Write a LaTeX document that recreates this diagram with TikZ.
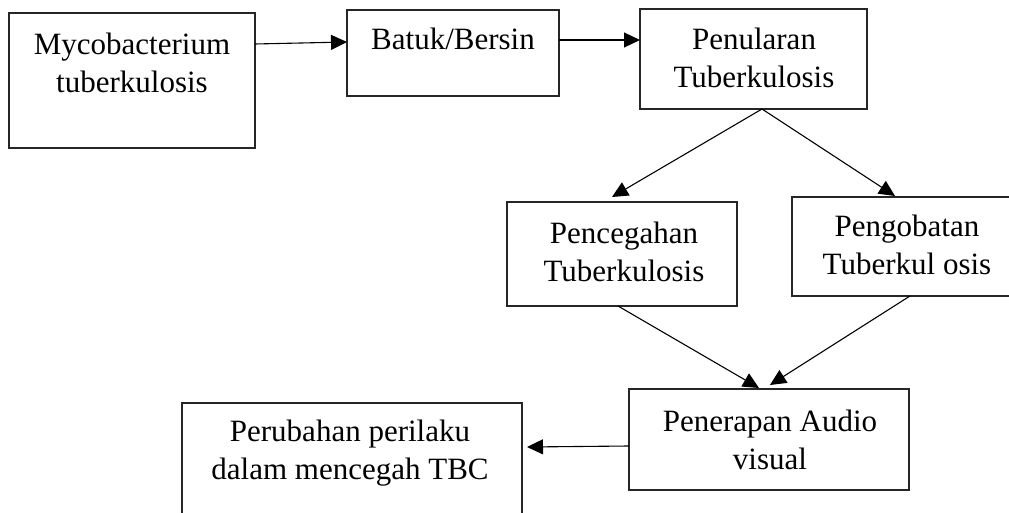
\documentclass[tikz,border=0pt]{standalone}
\usepackage{fontspec}
\setmainfont{Liberation Serif}
\usetikzlibrary{arrows.meta}
\tikzset{
  boxnode/.style={draw=black!85, line width=1.2pt, inner sep=0pt, outer sep=0pt, rectangle},
  txt/.style={anchor=base, align=center, inner sep=0pt, font=\fontsize{31}{38}\selectfont},
  conn/.style={line width=1.1pt, draw=black, -{Triangle[length=16pt,width=15pt]}}
}
\begin{document}
\begin{tikzpicture}[x=1pt,y=-1pt]
\useasboundingbox (0,0) rectangle (1009,513);
% boxes
\node[boxnode, minimum width=246pt, minimum height=135pt] (b1) at (132,80.5) {};
\node[boxnode, minimum width=212pt, minimum height=86pt] (b2) at (453,53) {};
\node[boxnode, minimum width=227pt, minimum height=100pt] (b3) at (753.5,59) {};
\node[boxnode, minimum width=230pt, minimum height=104pt] (b4) at (622,254) {};
\node[boxnode, minimum width=230pt, minimum height=99pt] (b5) at (907,246.5) {};
\node[boxnode, minimum width=280pt, minimum height=101pt] (b6) at (769,439.5) {};
\node[boxnode, minimum width=340pt, minimum height=127pt] (b7) at (352,466.5) {};
% texts (base anchor = baseline of the last line)
\node[txt] (t1) at (132,93) {Mycobacterium\\tuberkulosis};
\node[txt] (t2) at (453,50) {Batuk/Bersin};
\node[txt] (t3) at (754,88) {Penularan\\Tuberkulosis};
\node[txt] (t4) at (624,281) {Pencegahan\\Tuberkulosis};
\node[txt] (t5) at (907,274) {Pengobatan\\Tuberkul osis};
\node[txt] (t6) at (770,469) {Penerapan Audio\\visual};
\node[txt] (t7) at (350,479) {Perubahan perilaku\\dalam mencegah TBC};
% connectors
\draw[conn] ([yshift=-31pt]b1.north east) -- ([yshift=-32pt]b2.north west);
\draw[conn] ([yshift=-30pt]b2.north east) -- ([yshift=-31pt]b3.north west);
\draw[conn] ([xshift=8.5pt]b3.south) -- ([xshift=-10pt,yshift=5pt]b4.north);
\draw[conn] ([xshift=8.5pt]b3.south) -- ([xshift=-12pt,yshift=1pt]b5.north);
\draw[conn] ([xshift=-4pt]b4.south) -- ([xshift=-10pt,yshift=1pt]b6.north);
\draw[conn] ([xshift=3pt]b5.south) -- ([xshift=1pt,yshift=4pt]b6.north);
\draw[conn] ([yshift=-6.5pt]b6.west) -- ([xshift=5pt,yshift=19.5pt]b7.east);
\end{tikzpicture}
\end{document}
